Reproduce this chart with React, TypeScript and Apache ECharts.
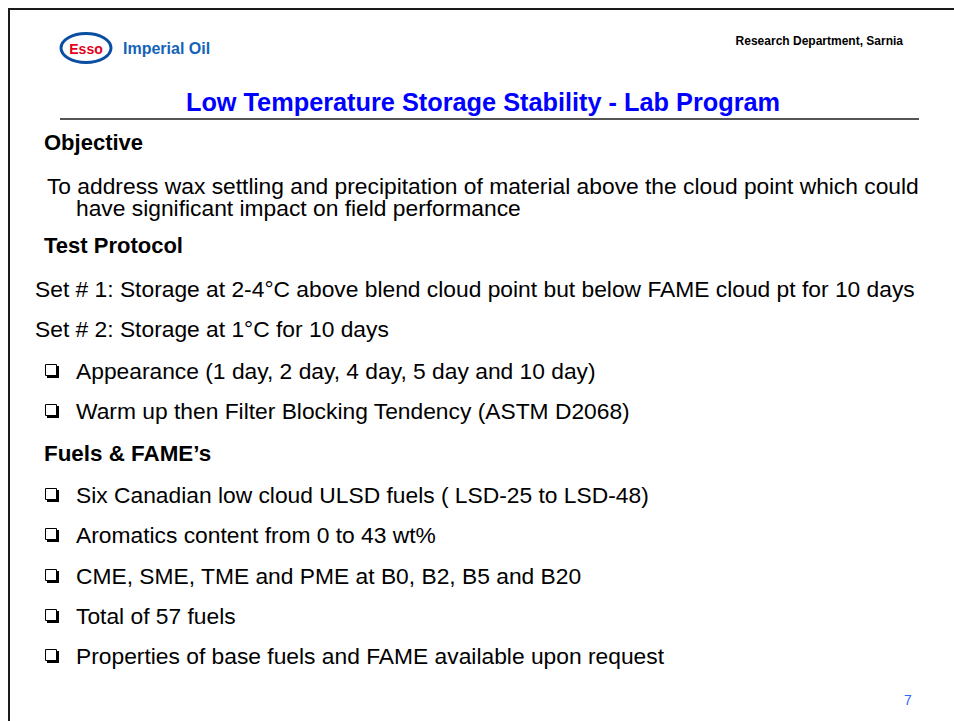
import React, { useEffect, useRef } from "react";
import * as echarts from "echarts";

const headerRight = "Research Department, Sarnia";
const brandName = "Imperial Oil";
const logoWord = "Esso";
const slideTitle = "Low Temperature Storage Stability - Lab Program";
const pageNumber = "7";

const sectionHeadings = ["Objective", "Test Protocol", "Fuels & FAME\u2019s"];
const objectiveLines = [
  " To address wax settling and precipitation of material above the cloud point which could",
  "have significant impact on field performance",
];
const protocolLines = [
  "Set # 1: Storage at 2-4\u00b0C above blend cloud point but below FAME cloud pt for 10 days",
  "Set # 2: Storage at 1\u00b0C for 10 days",
];
const protocolBullets = [
  "Appearance (1 day, 2 day, 4 day, 5 day and 10 day)",
  "Warm up then Filter Blocking Tendency (ASTM D2068)",
];
const fuelBullets = [
  "Six Canadian low cloud ULSD fuels ( LSD-25 to LSD-48)",
  "Aromatics content from 0 to 43 wt%",
  "CME, SME, TME and PME at B0, B2, B5 and B20",
  "Total of 57 fuels",
  "Properties of base fuels and FAME available upon request",
];

const FONT = "'Liberation Sans', Arial, sans-serif";
const FAMILY = "Liberation Sans";
const BODY = 22.8;

function txt(text: string, x: number, y: number, size: number, opts: any = {}) {
  const style: any = {
    text,
    font: `${opts.bold ? "bold " : ""}${size}px ${FONT}`,
    fill: opts.color || "#000",
    textAlign: opts.align || "left",
    textVerticalAlign: "middle",
    align: opts.align || "left",
    verticalAlign: "middle",
  };
  return { type: "text", x, y, silent: true, style };
}

function checkbox(x: number, y: number) {
  return [
    { type: "rect", shape: { x: x + 2, y: y + 2, width: 12, height: 12 }, style: { fill: "#000" } },
    {
      type: "rect",
      shape: { x: x + 0.5, y: y + 0.5, width: 11, height: 11 },
      style: { fill: "#fff", stroke: "#000", lineWidth: 1 },
    },
  ];
}

export default function App() {
  const ref = useRef<HTMLDivElement>(null);
  useEffect(() => {
    document.body.style.margin = "0";
    const chart = echarts.init(ref.current!, null, { renderer: "svg" });
    const els: any[] = [];
    // slide border (top and left)
    els.push({ type: "line", shape: { x1: 8, y1: 9, x2: 954, y2: 9 }, style: { stroke: "#1a1a1a", lineWidth: 2 } });
    els.push({ type: "line", shape: { x1: 9, y1: 8, x2: 9, y2: 721 }, style: { stroke: "#1a1a1a", lineWidth: 2 } });

    // logo
    els.push({
      type: "ellipse",
      shape: { cx: 86, cy: 48, rx: 25, ry: 14.5 },
      style: { fill: "#fff", stroke: "#0b4fa3", lineWidth: 3 },
    });
    els.push(txt(logoWord, 86, 49, 14, { bold: true, color: "#e2001a", align: "center" }));
    els.push(txt(brandName, 123, 48, 16, { bold: true, color: "#1463b8" }));

    els.push(txt(headerRight, 903, 41, 12, { bold: true, align: "right" }));

    // title
    els.push(txt(slideTitle, 483, 102, 25.3, { bold: true, color: "#0000ff", align: "center" }));
    els.push({ type: "line", shape: { x1: 60, y1: 119, x2: 919, y2: 119 }, style: { stroke: "#555", lineWidth: 2 } });

    // Objective
    els.push(txt(sectionHeadings[0], 44, 142, 22, { bold: true }));
    els.push({
      type: "text",
      x: 41,
      y: 175,
      silent: true,
      style: {
        text: `{a|${objectiveLines[0]}}\n{ind| }{a|${objectiveLines[1]}}`,
        fill: "#000",
        fontSize: BODY,
        fontFamily: FAMILY,
        lineHeight: 22,
        textAlign: "left",
        align: "left",
        textVerticalAlign: "top",
        verticalAlign: "top",
        rich: {
          a: { fontSize: BODY, fontFamily: FAMILY, lineHeight: 22, fill: "#000" },
          ind: { width: 35, fontSize: BODY, fontFamily: FAMILY, lineHeight: 22 },
        },
      },
    });

    // Test protocol
    els.push(txt(sectionHeadings[1], 44, 245, 22, { bold: true }));
    const protoY = [289, 329];
    protocolLines.forEach((l, i) => els.push(txt(l, 35, protoY[i], BODY)));
    const pbY = [371, 411];
    protocolBullets.forEach((l, i) => {
      els.push(...checkbox(45, pbY[i] - 7));
      els.push(txt(l, 76, pbY[i], BODY));
    });

    // Fuels
    els.push(txt(sectionHeadings[2], 44, 453, 22.4, { bold: true }));
    const fbY = [495, 535, 576, 616, 656];
    fuelBullets.forEach((l, i) => {
      els.push(...checkbox(45, fbY[i] - 7));
      els.push(txt(l, 76, fbY[i], BODY));
    });

    els.push(txt(pageNumber, 908, 700, 14, { color: "#3366ff", align: "center" }));

    chart.setOption({ animation: false, graphic: { elements: els } });
    return () => chart.dispose();
  }, []);
  return <div ref={ref} style={{ width: 954, height: 721, background: "#fff", overflow: "hidden" }} />;
}
